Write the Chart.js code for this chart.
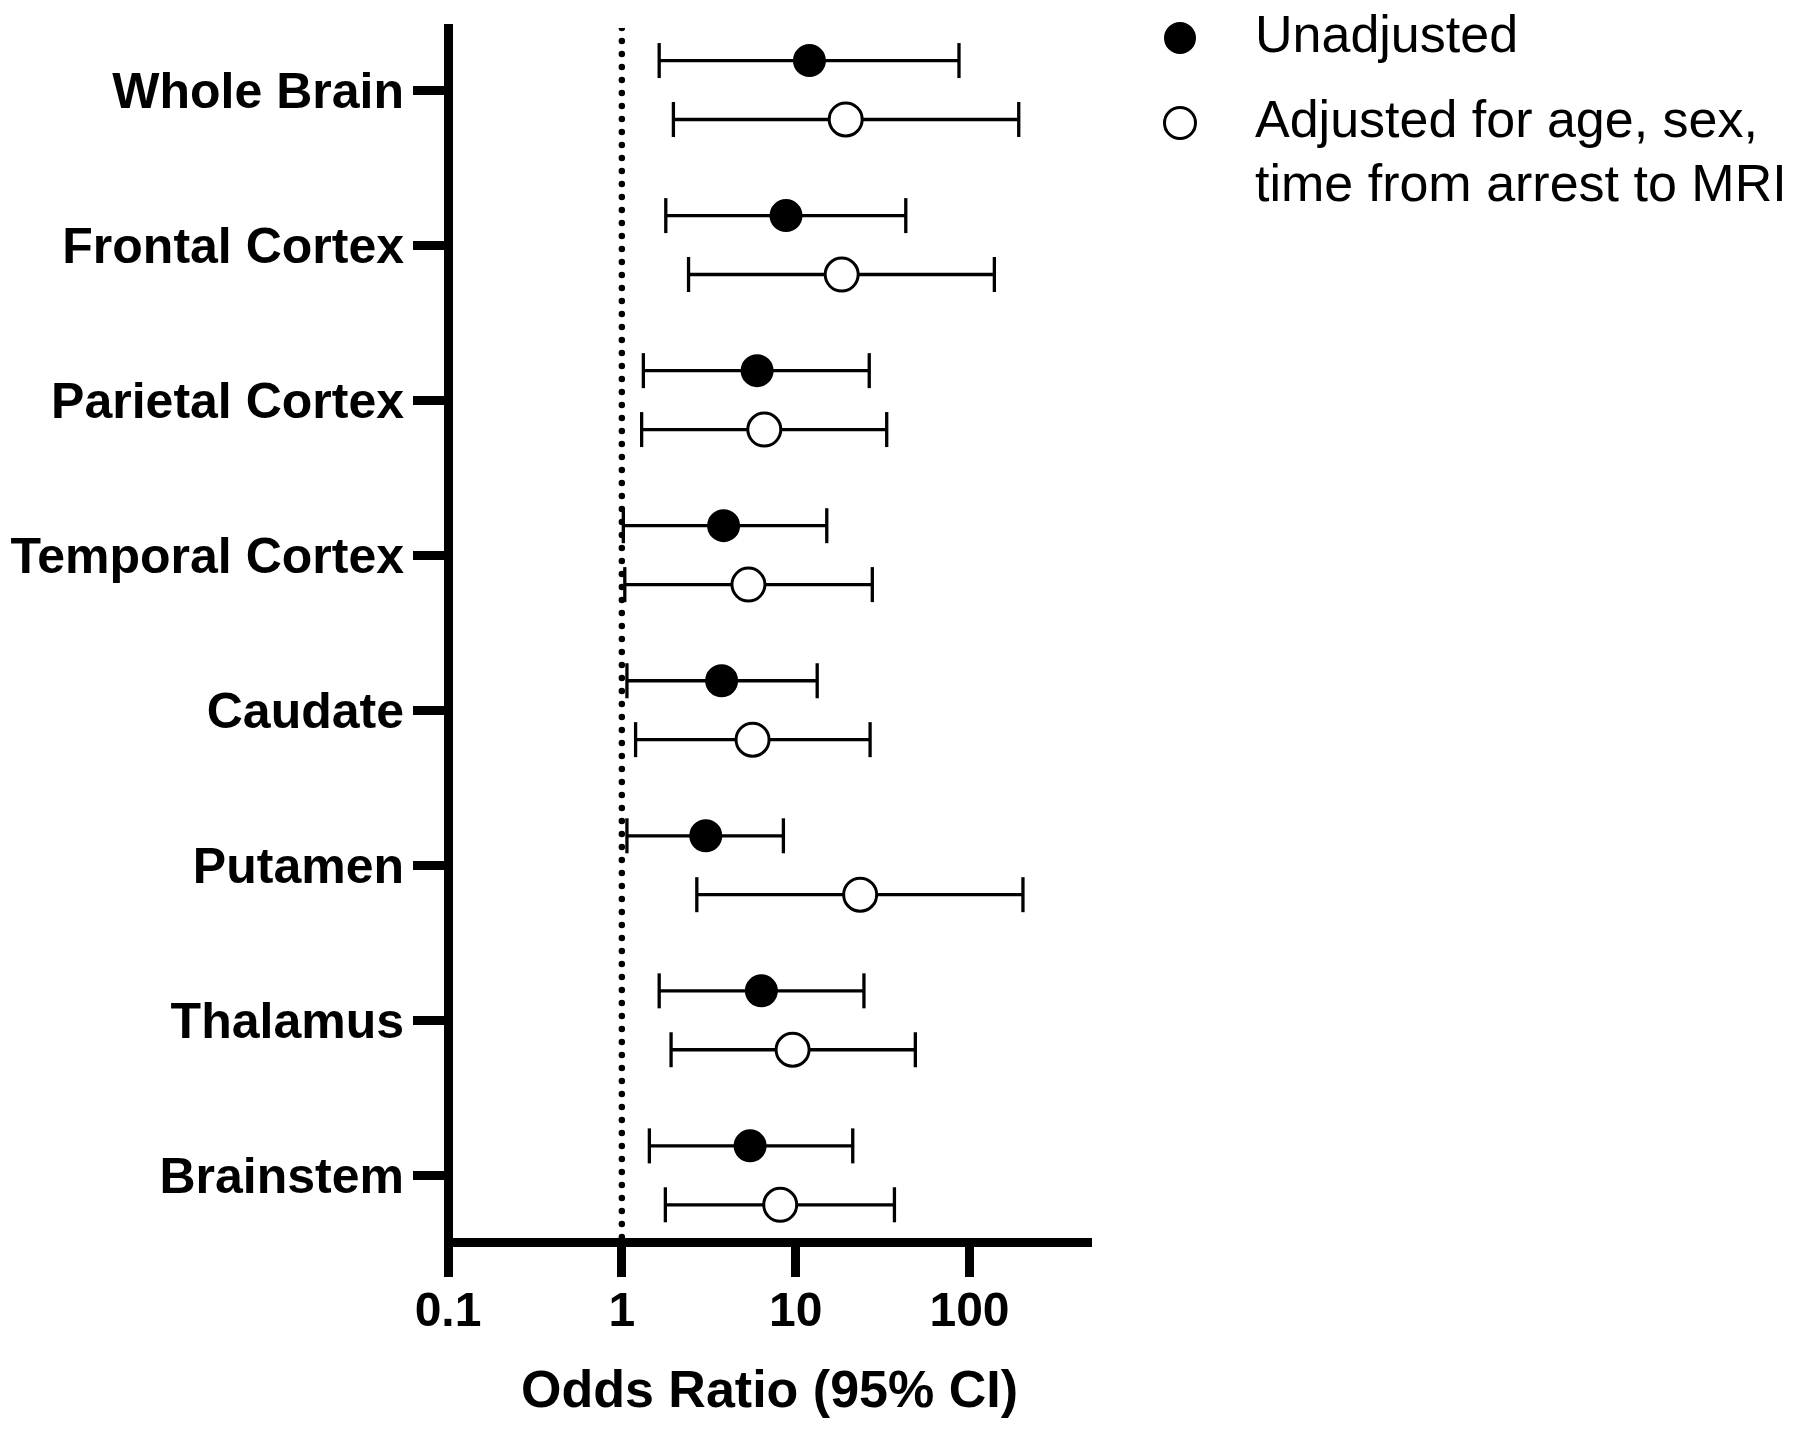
<!DOCTYPE html>
<html>
<head>
<meta charset="utf-8">
<script src="https://cdn.jsdelivr.net/npm/chart.js@4.4.1/dist/chart.umd.min.js"></script>
<style>
  html, body { margin: 0; padding: 0; background: #fff; }
  #wrap { width: 1800px; height: 1430px; }
</style>
</head>
<body>
<div id="wrap"><canvas id="forestChart"></canvas></div>
<script>
// Regiones, de arriba a abajo
const regions = ['Whole Brain', 'Frontal Cortex', 'Parietal Cortex', 'Temporal Cortex',
                 'Caudate', 'Putamen', 'Thalamus', 'Brainstem'];

// Odds ratio sin ajustar (punto, IC inferior, IC superior)
const unadjOR   = [12.0, 8.8, 6.0, 3.85, 3.75, 3.04, 6.35, 5.47];
const unadjLow  = [1.64, 1.79, 1.33, 1.02, 1.07, 1.07, 1.64, 1.44];
const unadjHigh = [87, 43, 26.5, 15.1, 13.3, 8.5, 24.7, 21.3];

// Ajustado por edad, sexo, tiempo hasta la RM
const adjOR   = [19.4, 18.4, 6.6, 5.35, 5.65, 23.5, 9.6, 8.15];
const adjLow  = [1.98, 2.42, 1.3, 1.04, 1.2, 2.7, 1.92, 1.78];
const adjHigh = [192, 139, 33.4, 27.6, 26.8, 203, 48.8, 37];

const xTicks = [0.1, 1, 10, 100];
const xTickLabels = ['0.1', '1', '10', '100'];
const xMin = 0.1;
const xMax = 500;
const refOR = 1;  // línea de no efecto

const seriesNames = [['Unadjusted'], ['Adjusted for age, sex,', 'time from arrest to MRI']];

// desplazamiento vertical de cada serie dentro de su fila
const rowShift = [-0.19, 0.19];
const yMin = -0.40;
const yMax = 7.43;

const FONT = '"Liberation Sans", Arial, Helvetica, sans-serif';
Chart.defaults.font.family = FONT;
Chart.defaults.color = '#000';

function pointData(values, shift) {
    return values.map((v, i) => ({ x: v, y: i + shift }));
}

// segmentos del IC separados por huecos (null)
function whiskerData(low, high, shift) {
    const pts = [];
    regions.forEach((r, i) => {
        pts.push({ x: low[i], y: i + shift });
        pts.push({ x: high[i], y: i + shift });
        pts.push({ x: null, y: null });
    });
    return pts;
}

const markerStyle = {
    showLine: false,
    pointStyle: 'circle',
    pointBorderWidth: 3,
    pointBorderColor: '#000'
};

const whiskerStyle = {
    showLine: true,
    spanGaps: false,
    borderColor: '#000',
    borderWidth: 3.3,
    pointStyle: 'line',
    pointRotation: 90,
    pointRadius: 17.5,
    pointBorderWidth: 3.3,
    pointBorderColor: '#000'
};

// Leyenda a la derecha, dibujada a mano
const sideLegend = {
    id: 'sideLegend',
    afterDraw(chart) {
        const ctx = chart.ctx;
        const rows = [38, 123];
        const fills = ['#000', '#fff'];
        const radii = [14.5, 15.5];
        ctx.save();
        ctx.font = '52px ' + FONT;
        ctx.textAlign = 'left';
        ctx.textBaseline = 'middle';
        seriesNames.forEach((lines, k) => {
            ctx.beginPath();
            ctx.arc(1180, rows[k], radii[k], 0, Math.PI * 2);
            ctx.fillStyle = fills[k];
            ctx.fill();
            ctx.lineWidth = 3;
            ctx.strokeStyle = '#000';
            ctx.stroke();
            ctx.fillStyle = '#000';
            lines.forEach((txt, j) => {
                ctx.fillText(txt, 1255, rows[k] + j * 63.5);
            });
        });
        ctx.restore();
    }
};

const ctx = document.getElementById('forestChart').getContext('2d');

new Chart(ctx, {
    type: 'scatter',
    data: {
        datasets: [
            Object.assign({ label: seriesNames[0].join(' '), data: pointData(unadjOR, rowShift[0]),
                            pointRadius: 15, pointBackgroundColor: '#000' }, markerStyle),
            Object.assign({ label: seriesNames[1].join(' '), data: pointData(adjOR, rowShift[1]),
                            pointRadius: 16.5, pointBackgroundColor: '#fff' }, markerStyle),
            Object.assign({ label: 'ci1', data: whiskerData(unadjLow, unadjHigh, rowShift[0]) }, whiskerStyle),
            Object.assign({ label: 'ci2', data: whiskerData(adjLow, adjHigh, rowShift[1]) }, whiskerStyle),
            {
                label: 'ref',
                data: [{ x: refOR, y: yMin }, { x: refOR, y: yMax }],
                showLine: true,
                borderColor: '#000',
                borderWidth: 6.5,
                borderDash: [0, 13],
                borderCapStyle: 'round',
                pointRadius: 0
            }
        ]
    },
    options: {
        responsive: true,
        maintainAspectRatio: false,
        animation: false,
        events: [],
        layout: { padding: { top: 28, right: 709, bottom: 0, left: 0 } },
        plugins: {
            legend: { display: false },
            tooltip: { enabled: false }
        },
        scales: {
            x: {
                type: 'logarithmic',
                min: xMin,
                max: xMax,
                afterBuildTicks: s => { s.ticks = xTicks.map(v => ({ value: v })); },
                afterFit: s => { s.height = 188; },
                ticks: {
                    callback: (v, i) => xTickLabels[i],
                    autoSkip: false,
                    maxRotation: 0,
                    padding: 7,
                    color: '#000',
                    font: { size: 48, weight: 'bold' }
                },
                grid: { drawOnChartArea: false, drawTicks: true, tickLength: 35, tickWidth: 9, tickColor: '#000' },
                border: { display: true, width: 9, color: '#000' },
                title: {
                    display: true,
                    text: 'Odds Ratio (95% CI)',
                    color: '#000',
                    font: { size: 52, weight: 'bold' },
                    padding: { top: 0, bottom: 6 }
                }
            },
            y: {
                type: 'linear',
                reverse: true,
                min: yMin,
                max: yMax,
                afterBuildTicks: s => { s.ticks = regions.map((r, i) => ({ value: i })); },
                afterFit: s => { s.width = 448; s.paddingTop = 0; s.paddingBottom = 0; },
                ticks: {
                    callback: v => regions[v],
                    autoSkip: false,
                    padding: 9,
                    labelOffset: 4,
                    color: '#000',
                    font: { size: 50, weight: 'bold' }
                },
                grid: { drawOnChartArea: false, drawTicks: true, tickLength: 35, tickWidth: 9, tickColor: '#000' },
                border: { display: true, width: 9, color: '#000' }
            }
        }
    },
    plugins: [sideLegend]
});
</script>
</body>
</html>
